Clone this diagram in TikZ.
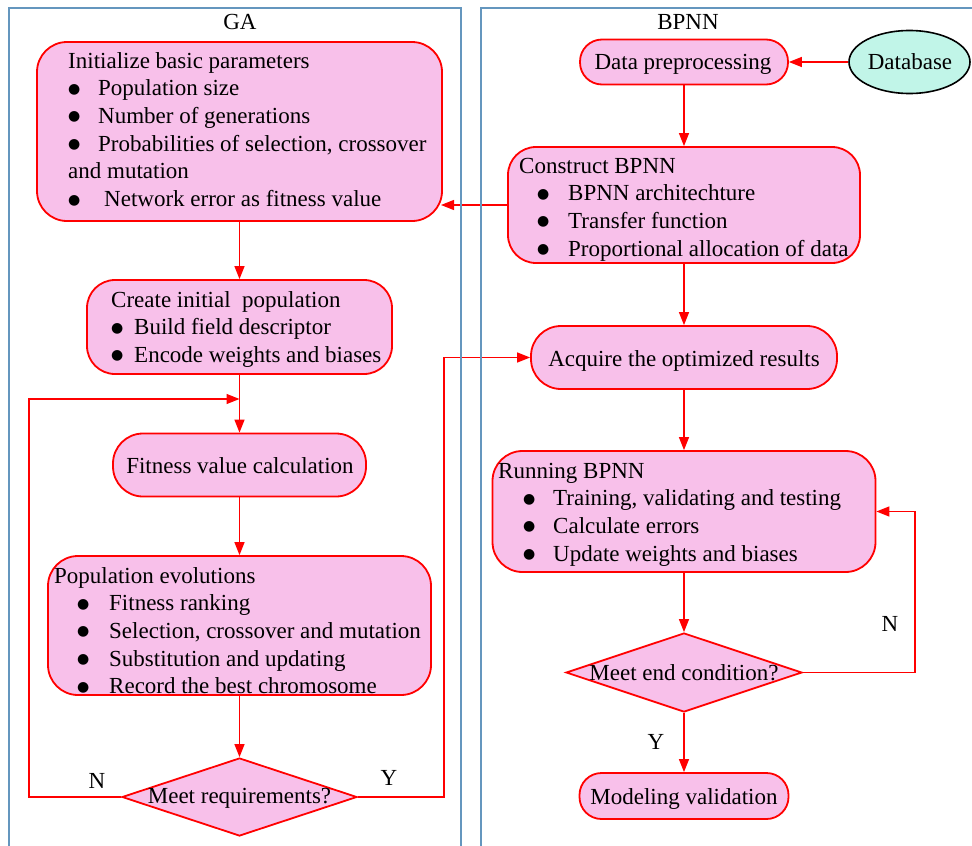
\documentclass[tikz,border=0pt]{standalone}
\usepackage{fontspec}
\setmainfont{Liberation Serif}
\newfontfamily\symfont{DejaVu Sans}
\usetikzlibrary{arrows.meta,shapes.geometric}
\definecolor{boxfill}{RGB}{248,192,234}
\definecolor{dbfill}{RGB}{193,245,232}
\definecolor{panelc}{RGB}{100,150,190}
\definecolor{linec}{RGB}{255,0,0}
\newcommand\bul{\raisebox{2.5pt}{\fontsize{14}{14}\symfont ●}}
\newcommand\bitem[3]{\hbox{\hspace*{#1}\makebox[#2][l]{\bul}#3}}
\newcommand\txtlines[1]{\vtop{\baselineskip=27.7pt\lineskiplimit=-100pt #1}}
\begin{document}
\begin{tikzpicture}[x=1pt,y=-1pt,
  txt/.style={inner sep=0pt, font=\fontsize{23}{27.7}\selectfont},
  rbox/.style={rectangle, draw=linec, fill=boxfill, line width=1.8pt, inner sep=0pt},
  dia/.style={diamond, draw=linec, fill=boxfill, line width=1.8pt, inner sep=0pt},
  arr/.style={draw=linec, line width=1.3pt, -{Triangle[length=13pt,width=10pt]}},
  panel/.style={draw=panelc, line width=1.3pt}]
\useasboundingbox (0,0) rectangle (972,846);

% ---------- boxes (GA) ----------
\node[rbox, rounded corners=30pt, minimum width=405pt, minimum height=179pt] (init) at (239.5,131.5) {};
\node[rbox, rounded corners=28pt, minimum width=305pt, minimum height=94pt] (create) at (239.5,327) {};
\node[rbox, rounded corners=30pt, minimum width=253pt, minimum height=63pt] (fit) at (239.5,465) {};
\node[rbox, rounded corners=30pt, minimum width=383pt, minimum height=139pt] (pop) at (239.5,625.5) {};
\node[dia, minimum width=235pt, minimum height=78pt] (d1) at (239.5,797) {};

% ---------- boxes (BPNN) ----------
\node[rbox, rounded corners=22pt, minimum width=208pt, minimum height=45pt] (dp) at (684,62) {};
\node[ellipse, draw=black, fill=dbfill, line width=1.6pt, inner sep=0pt, minimum width=121pt, minimum height=63pt] (db) at (909.5,62) {};
\node[rbox, rounded corners=28pt, minimum width=352pt, minimum height=116pt] (con) at (684,205) {};
\node[rbox, rounded corners=30pt, minimum width=306pt, minimum height=63pt] (acq) at (684,357.5) {};
\node[rbox, rounded corners=30pt, minimum width=383pt, minimum height=121pt] (run) at (684,511.5) {};
\node[dia, minimum width=236pt, minimum height=79pt] (d2) at (684,672.5) {};
\node[rbox, rounded corners=22pt, minimum width=209pt, minimum height=46pt] (mv) at (684,796) {};

% ---------- texts ----------
\node[txt, anchor=base] (tga) at (240,29) {GA};
\node[txt, anchor=base] (tbp) at (688,29) {BPNN};

\node[txt, anchor=base west] (tinit) at (68,68) {\txtlines{%
  \hbox{Initialize basic parameters}
  \bitem{0pt}{30pt}{Population size}
  \bitem{0pt}{30pt}{Number of generations}
  \bitem{0pt}{30pt}{Probabilities of selection, crossover}
  \hbox{and mutation}
  \bitem{0pt}{36pt}{Network error as fitness value}}};
\node[txt, anchor=base west] (tcreate) at (111,307) {\txtlines{%
  \hbox{Create initial\ \ population}
  \bitem{0pt}{23pt}{Build field descriptor}
  \bitem{0pt}{23pt}{Encode weights and biases}}};
\node[txt, anchor=base] (tfit) at (240,473) {Fitness value calculation};
\node[txt, anchor=base west] (tpop) at (54,583) {\txtlines{%
  \hbox{Population evolutions}
  \bitem{23pt}{32pt}{Fitness ranking}
  \bitem{23pt}{32pt}{Selection, crossover and mutation}
  \bitem{23pt}{32pt}{Substitution and updating}
  \bitem{23pt}{32pt}{Record the best chromosome}}};
\node[txt, anchor=base] (td1) at (239.5,803) {Meet requirements?};

\node[txt, anchor=base] (tdp) at (683,69) {Data preprocessing};
\node[txt, anchor=base] (tdb) at (910,69) {Database};
\node[txt, anchor=base west] (tcon) at (519,173) {\txtlines{%
  \hbox{Construct BPNN}
  \bitem{18pt}{31pt}{BPNN architechture}
  \bitem{18pt}{31pt}{Transfer function}
  \bitem{18pt}{31pt}{Proportional allocation of data}}};
\node[txt, anchor=base] (tacq) at (684,366) {Acquire the optimized results};
\node[txt, anchor=base west] (trun) at (498,478) {\txtlines{%
  \hbox{Running BPNN}
  \bitem{25pt}{30pt}{Training, validating and testing}
  \bitem{25pt}{30pt}{Calculate errors}
  \bitem{25pt}{30pt}{Update weights and biases}}};
\node[txt, anchor=base] (td2) at (684,680) {Meet end condition?};
\node[txt, anchor=base] (tmv) at (684,804) {Modeling validation};

\node[txt, anchor=base] (lN1) at (97,788) {N};
\node[txt, anchor=base] (lY1) at (389,785) {Y};
\node[txt, anchor=base] (lN2) at (890,631) {N};
\node[txt, anchor=base] (lY2) at (656,749) {Y};

% ---------- connectors ----------
\coordinate (merge) at (239.5,399);
\coordinate (nL) at (29,797);
\coordinate (yR) at (444,797);
\coordinate (nR) at (915,672.5);
\coordinate (initR) at (441,205);

\draw[arr] (init.south) -- (create.north);
\draw[arr] (create.south) -- (fit.north);
\draw[arr] (fit.south) -- (pop.north);
\draw[arr] (pop.south) -- (d1.north);
\draw[arr] (d1.west) -- (nL) |- (merge);
\draw[arr] (d1.east) -- (yR) |- (acq.west);

\draw[arr] (db.west) -- (dp.east);
\draw[arr] (dp.south) -- (con.north);
\draw[arr] (con.west) -- (initR);
\draw[arr] (con.south) -- (acq.north);
\draw[arr] (acq.south) -- (run.north);
\draw[arr] (run.south) -- (d2.north);
\draw[arr] (d2.east) -- (nR) |- (run.east);
\draw[arr] (d2.south) -- (mv.north);

% ---------- panels ----------
\draw[panel] (9,850) -- (9,8) -- (461,8) -- (461,850);
\draw[panel] (481,850) -- (481,8) -- (980,8);
\end{tikzpicture}
\end{document}
